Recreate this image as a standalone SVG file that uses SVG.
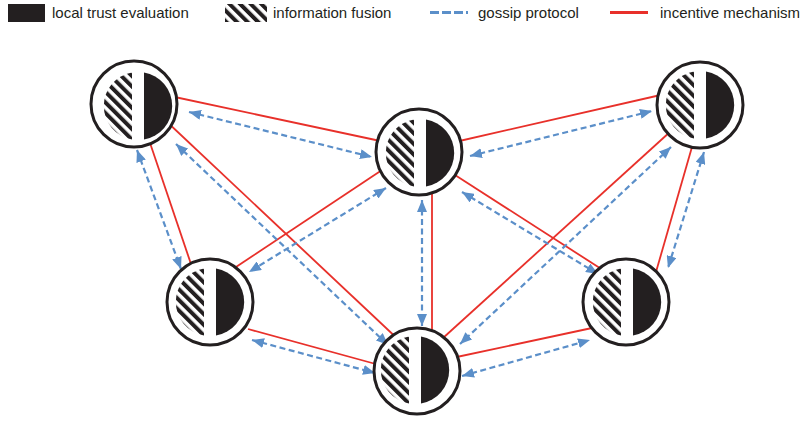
<svg xmlns="http://www.w3.org/2000/svg" width="803" height="432" viewBox="0 0 803 432">
  <style>
    .label { font-family: "Liberation Sans", Arial, sans-serif; font-size: 15px; fill: #231f20; }
    .ring { fill: #ffffff; stroke: #231f20; stroke-width: 3; }
    .solid { fill: #231f20; }
    .hatched { fill: url(#hatch); }
    .incentive { stroke: #e8302a; stroke-width: 1.8; fill: none; }
    .gossip { stroke: #5b8fc9; stroke-width: 2.2; stroke-dasharray: 6 3.5; fill: none; marker-start: url(#tip); marker-end: url(#tip); }
  </style>
  <defs>
    <pattern id="hatch" width="7.5" height="7.5" patternUnits="userSpaceOnUse" patternTransform="rotate(-45)">
      <rect x="0" y="0" width="4" height="7.5" fill="#231f20"/>
    </pattern>
    <marker id="tip" viewBox="0 0 12 10" refX="12" refY="5" markerWidth="12" markerHeight="10" markerUnits="userSpaceOnUse" orient="auto-start-reverse">
      <path d="M0,0 L12,5 L0,10 Z" fill="#5b8fc9"/>
    </marker>
    <!-- peer outline -->
    <circle id="ring" class="ring" r="43"/>
    <!-- peer face: hatched (fusion) half and solid (trust) half -->
    <g id="face">
      <path class="hatched" d="M-6,-33.5 A34,34 0 0 0 -6,33.5 Z"/>
      <path class="solid" d="M6,-33.5 A34,34 0 0 1 6,33.5 Z"/>
    </g>
  </defs>

  <rect width="803" height="432" fill="#ffffff"/>

  <!-- legend -->
  <g id="legend">
    <rect x="8" y="4" width="37" height="18" class="solid"/>
    <text x="52" y="18" class="label">local trust evaluation</text>
    <rect x="225" y="4" width="42" height="18" class="hatched"/>
    <text x="273" y="18" class="label">information fusion</text>
    <line x1="430" y1="12.5" x2="468" y2="12.5" stroke="#5b8fc9" stroke-width="3" stroke-dasharray="9 3"/>
    <text x="478" y="18" class="label">gossip protocol</text>
    <line x1="610" y1="12.5" x2="648" y2="12.5" stroke="#e8302a" stroke-width="3"/>
    <text x="660" y="18" class="label">incentive mechanism</text>
  </g>

  <!-- connectors: incentive links and gossip exchanges -->
  <g id="connectors">
    <line class="incentive" x1="170" y1="96" x2="385" y2="142"/>
    <line class="incentive" x1="455" y1="142" x2="665" y2="94"/>
    <line class="incentive" x1="148" y1="137" x2="193" y2="270"/>
    <line class="incentive" x1="165" y1="120" x2="402" y2="343"/>
    <line class="incentive" x1="385" y1="168" x2="236" y2="267"/>
    <line class="incentive" x1="432" y1="190" x2="432" y2="333"/>
    <line class="incentive" x1="455" y1="175" x2="606" y2="272"/>
    <line class="incentive" x1="671" y1="131" x2="443" y2="338"/>
    <line class="incentive" x1="694" y1="140" x2="656" y2="272"/>
    <line class="incentive" x1="248" y1="329" x2="383" y2="366"/>
    <line class="incentive" x1="452" y1="358" x2="592" y2="328"/>

    <line class="gossip" x1="189" y1="112" x2="372" y2="157"/>
    <line class="gossip" x1="470" y1="156" x2="652" y2="111"/>
    <line class="gossip" x1="137" y1="150" x2="181" y2="269"/>
    <line class="gossip" x1="176" y1="144" x2="388" y2="345"/>
    <line class="gossip" x1="386" y1="188" x2="249" y2="272"/>
    <line class="gossip" x1="422" y1="200" x2="422" y2="326"/>
    <line class="gossip" x1="462" y1="192" x2="598" y2="274"/>
    <line class="gossip" x1="671" y1="147" x2="460" y2="344"/>
    <line class="gossip" x1="704" y1="152" x2="668" y2="268"/>
    <line class="gossip" x1="252" y1="340" x2="375" y2="373"/>
    <line class="gossip" x1="462" y1="376" x2="590" y2="340"/>
  </g>

  <!-- peers -->
  <g id="node-top-left"><use href="#ring" x="134" y="104"/><use href="#face" x="138" y="106"/></g>
  <g id="node-top-center"><use href="#ring" x="419" y="152"/><use href="#face" x="420" y="153"/></g>
  <g id="node-top-right"><use href="#ring" x="700" y="105"/><use href="#face" x="700" y="105"/></g>
  <g id="node-mid-left"><use href="#ring" x="210" y="302"/><use href="#face" x="210" y="302"/></g>
  <g id="node-bottom-center"><use href="#ring" x="417" y="371"/><use href="#face" x="415" y="370"/></g>
  <g id="node-mid-right"><use href="#ring" x="626" y="302"/><use href="#face" x="627" y="302"/></g>
</svg>
